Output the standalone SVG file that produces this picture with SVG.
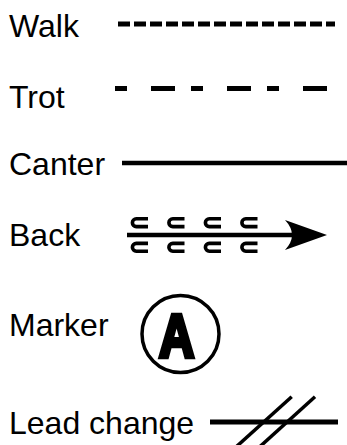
<svg xmlns="http://www.w3.org/2000/svg" xmlns:xlink="http://www.w3.org/1999/xlink" width="347" height="445" viewBox="0 0 347 445">
  <style>
    .lbl { font-family: "Liberation Sans", Arial, sans-serif; font-size: 32px; fill: #000; }
    .ln { stroke: #000; fill: none; }
    .cup { stroke: #000; fill: none; stroke-width: 3.6; }
  </style>
  <defs>
    <path id="cup" class="cup" d="M17.5,0 H5.8 A3.9,3.9 0 0 0 5.8,7.8 H17.5"/>
  </defs>
  <rect width="347" height="445" fill="#fff"/>
  <g id="walk">
    <text class="lbl" x="9" y="37">Walk</text>
    <line class="ln" x1="118" y1="24" x2="335" y2="24" stroke-width="5" stroke-dasharray="12 4"/>
  </g>
  <g id="trot">
    <text class="lbl" x="9" y="108">Trot</text>
    <line class="ln" x1="115" y1="88.5" x2="328" y2="88.5" stroke-width="5" stroke-dasharray="12 24 24 16"/>
  </g>
  <g id="canter">
    <text class="lbl" x="9" y="175">Canter</text>
    <line class="ln" x1="122" y1="163" x2="347" y2="163" stroke-width="4.5"/>
  </g>
  <g id="back">
    <text class="lbl" x="9" y="246">Back</text>
    <line class="ln" x1="127" y1="235" x2="292" y2="235" stroke-width="4.5"/>
    <path d="M285,220 L327,235 L285,250 Q299,235 285,220 Z" fill="#000"/>
    <use xlink:href="#cup" href="#cup" x="130.5" y="218.8"/>
    <use xlink:href="#cup" href="#cup" x="167" y="218.8"/>
    <use xlink:href="#cup" href="#cup" x="203.5" y="218.8"/>
    <use xlink:href="#cup" href="#cup" x="240" y="218.8"/>
    <use xlink:href="#cup" href="#cup" x="130.5" y="243.4"/>
    <use xlink:href="#cup" href="#cup" x="167" y="243.4"/>
    <use xlink:href="#cup" href="#cup" x="203.5" y="243.4"/>
    <use xlink:href="#cup" href="#cup" x="240" y="243.4"/>
  </g>
  <g id="marker">
    <text class="lbl" x="9" y="336">Marker</text>
    <circle cx="180.5" cy="334" r="38.5" fill="none" stroke="#000" stroke-width="3.5"/>
    <text x="0" y="0" transform="translate(176.5,356.5) scale(0.8,1)" text-anchor="middle" font-family="'Liberation Sans', Arial, sans-serif" font-weight="bold" font-size="61" fill="#000" stroke="#000" stroke-width="4.5" stroke-linejoin="miter">A</text>
  </g>
  <g id="lead-change">
    <text class="lbl" x="9" y="434">Lead change</text>
    <line class="ln" x1="210" y1="422" x2="338" y2="422" stroke-width="5"/>
    <line class="ln" x1="291.7" y1="396.7" x2="236" y2="447" stroke-width="3.5"/>
    <line class="ln" x1="315" y1="396.7" x2="259.5" y2="447" stroke-width="3.5"/>
  </g>
</svg>
